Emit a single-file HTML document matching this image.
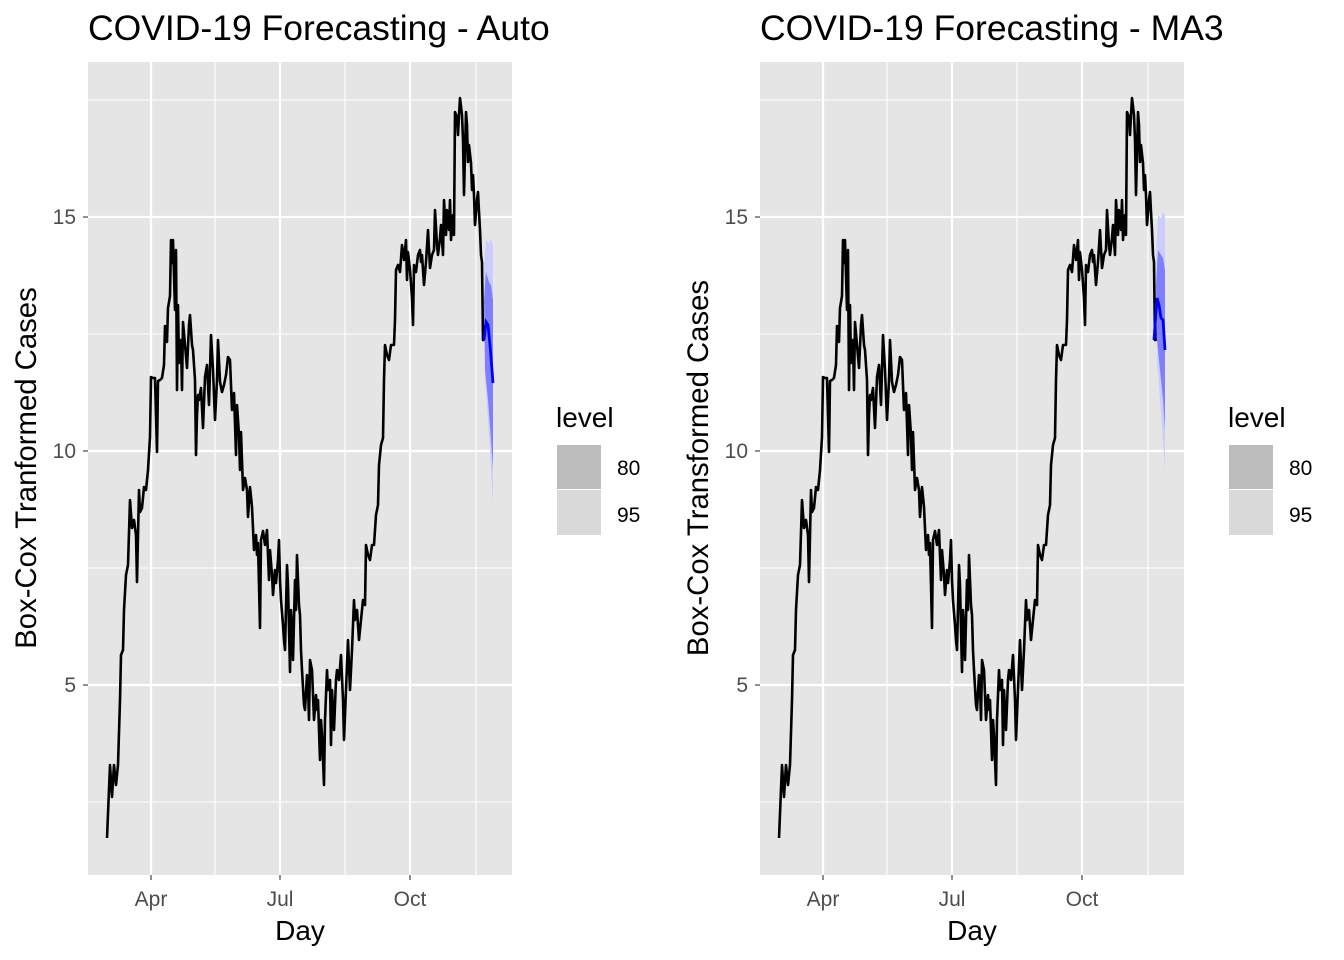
<!DOCTYPE html>
<html><head><style>body{margin:0;background:#fff}svg{display:block}</style></head><body>
<svg width="1344" height="960" xmlns="http://www.w3.org/2000/svg" font-family="Liberation Sans, Arial, sans-serif">
<defs>
<g id="panel">
<rect x="88" y="62" width="424" height="813" fill="#E5E5E5"/>
<g stroke="#fff" stroke-width="1.1">
<line x1="88" x2="512" y1="100" y2="100"/><line x1="88" x2="512" y1="334" y2="334"/><line x1="88" x2="512" y1="568" y2="568"/><line x1="88" x2="512" y1="802" y2="802"/>
<line y1="62" y2="875" x1="215" x2="215"/><line y1="62" y2="875" x1="345" x2="345"/><line y1="62" y2="875" x1="476" x2="476"/>
</g>
<g stroke="#fff" stroke-width="2.2">
<line x1="88" x2="512" y1="217" y2="217"/><line x1="88" x2="512" y1="451" y2="451"/><line x1="88" x2="512" y1="685" y2="685"/>
<line y1="62" y2="875" x1="151" x2="151"/><line y1="62" y2="875" x1="280" x2="280"/><line y1="62" y2="875" x1="410" x2="410"/>
</g>
<polyline fill="none" stroke="#000" stroke-width="2.6" stroke-linejoin="round" points="107,838 110,765 112,797 114,765 116,785 118,765 120,700 121,655 123,650 124,610 126,575 128,565 130,500 132,528 134,520 136,535 137,582 139,490 140,512 142,508 144,487 146,490 148,470 150,437 151,377 153,378 155,378 157,452 158,381 160,380 162,378 164,365 165,326 167,342 168,308 170,296 171,240 172,263 173,240 175,310 176,250 177,390 178,305 179,363 181,340 182,390 183,322 185,345 187,368 189,325 190,315 192,345 193,350 195,380 196,455 197,415 198,395 199,400 201,388 203,428 205,377 207,365 209,405 211,335 213,370 215,420 217,380 218,340 220,382 222,392 224,385 226,375 228,357 230,360 232,410 234,393 236,455 237,405 238,420 239,435 240,470 241,432 243,490 245,478 247,490 248,517 250,487 252,507 254,550 256,535 257,555 258,543 260,628 261,540 263,531 265,545 267,530 269,580 270,550 272,575 273,595 275,570 276,583 278,560 279,540 280,580 281,600 283,625 284,640 285,650 287,565 288,585 290,672 291,610 292,630 293,660 295,580 296,610 297,555 299,605 300,615 301,650 302,670 304,705 305,710 307,675 308,685 309,720 310,660 312,670 314,720 316,695 317,710 318,700 320,760 321,720 322,735 324,785 325,720 327,670 328,690 330,680 331,745 332,690 334,730 336,680 337,670 339,680 341,655 343,700 344,740 346,690 348,640 350,690 352,650 354,600 355,620 357,610 359,640 361,620 363,600 365,605 366,545 368,555 370,560 372,545 374,545 376,515 378,505 379,465 381,445 383,438 384,380 385,345 387,355 389,360 391,345 392,345 394,345 395,320 396,270 398,265 400,272 402,245 404,260 406,240 407,280 408,252 410,270 412,298 413,325 414,265 416,272 418,255 420,250 421,262 422,255 424,285 426,262 428,230 430,268 432,255 434,250 435,210 437,245 438,255 440,238 441,225 443,255 444,200 446,235 447,210 449,230 450,200 451,240 453,215 454,235 455,112 457,117 458,135 459,115 460,98 462,115 463,140 464,195 466,112 467,125 468,162 469,145 471,163 472,190 473,175 474,195 475,225 477,200 478,192 479,212 480,230 481,255 482,262 483,340 484,340 485,325"/>
<g font-size="21" fill="#4d4d4d">
<text x="76" y="224" text-anchor="end">15</text><text x="76" y="458" text-anchor="end">10</text><text x="76" y="692" text-anchor="end">5</text>
<text x="151" y="906" text-anchor="middle">Apr</text><text x="280" y="906" text-anchor="middle">Jul</text><text x="410" y="906" text-anchor="middle">Oct</text>
</g>
<g stroke="#333" stroke-width="1.1"><line x1="83" x2="88" y1="217" y2="217"/><line x1="83" x2="88" y1="451" y2="451"/><line x1="83" x2="88" y1="685" y2="685"/>
<line y1="875" y2="880" x1="151" x2="151"/><line y1="875" y2="880" x1="280" x2="280"/><line y1="875" y2="880" x1="410" x2="410"/></g>
<text x="300" y="940" text-anchor="middle" font-size="28" fill="#000">Day</text>
<text x="556" y="427" font-size="28" fill="#000">level</text>
<rect x="557" y="445" width="44" height="44" fill="#BDBDBD"/><rect x="557" y="490" width="44" height="45" fill="#D9D9D9"/>
<text x="617" y="475" font-size="21" fill="#000">80</text><text x="617" y="522" font-size="21" fill="#000">95</text>
</g>
</defs>
<use href="#panel"/>
<use href="#panel" x="672"/>
<text x="88" y="40" font-size="35.5">COVID-19 Forecasting - Auto</text>
<text x="760" y="40" font-size="35.5">COVID-19 Forecasting - MA3</text>
<text transform="translate(36,468) rotate(-90)" text-anchor="middle" font-size="29.3">Box-Cox Tranformed Cases</text>
<text transform="translate(708,468) rotate(-90)" text-anchor="middle" font-size="29.3">Box-Cox Transformed Cases</text>
<polygon points="484,270 486,240 489,243 491,240 493,245 493,505 491,470 488,420 485,380" fill="#ccccff"/>
<polygon points="484,300 486,272 489,282 491,285 493,300 493,470 491,440 488,400 485,370" fill="#8080ff"/>
<polyline points="484,340 486,322 488,325 490,345 493,383" fill="none" stroke="#00f" stroke-width="2.8"/>
<polygon points="1156,260 1158,215 1161,218 1163,212 1165,215 1165,470 1163,440 1160,400 1157,360" fill="#ccccff"/>
<polygon points="1156,285 1158,250 1161,255 1163,258 1165,270 1165,430 1163,400 1160,370 1157,340" fill="#8080ff"/>
<polyline points="1154,340 1157,298 1159,305 1161,318 1163,320 1165,350" fill="none" stroke="#00f" stroke-width="2.8"/>
</svg>
</body></html>
